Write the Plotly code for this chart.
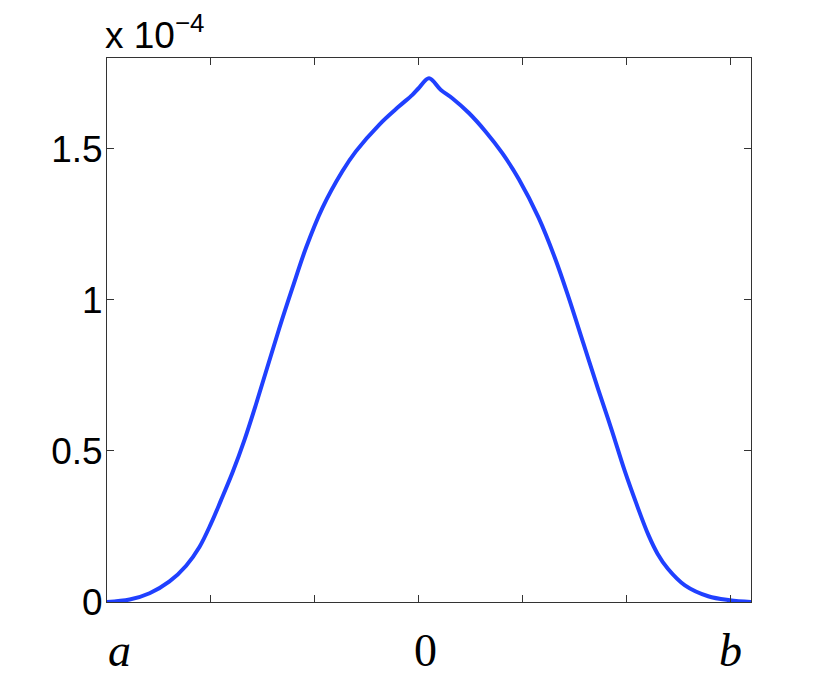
import plotly.graph_objects as go

# curve, y in units of 1e-4
x_vals = [-1.5, -1.391, -1.295, -1.199, -1.119, -1.055, -0.999, -0.951, -0.895, -0.839,
          -0.782, -0.671, -0.607, -0.542, -0.463, -0.367, -0.302, -0.19, -0.094, -0.03,
          0.0, 0.05, 0.106, 0.162, 0.242, 0.322, 0.402, 0.482, 0.578, 0.658,
          0.722, 0.794, 0.866, 0.93, 0.991, 1.05, 1.106, 1.15, 1.2, 1.282,
          1.394, 1.498, 1.6]
y_vals = [0.0, 0.008, 0.029, 0.068, 0.120, 0.182, 0.260, 0.337, 0.430, 0.535,
          0.656, 0.905, 1.040, 1.172, 1.304, 1.425, 1.491, 1.579, 1.640, 1.678,
          1.700, 1.733, 1.695, 1.667, 1.618, 1.557, 1.486, 1.400, 1.271, 1.135,
          1.008, 0.854, 0.700, 0.568, 0.436, 0.322, 0.222, 0.160, 0.110, 0.055,
          0.019, 0.006, 0.0]

x_ticks = [-1.0, -0.5, 0.0, 0.5, 1.0, 1.5]
y_ticks = [0, 0.5, 1, 1.5]
y_ticktext = ["0", "0.5", "1", "1.5"]

# x labels: (position, text)
x_labels = [(-1.44, "<i>a</i>"), (0.033, "0"), (1.5, "<i>b</i>")]

axis_col = "#333333"

fig = go.Figure()
fig.add_trace(go.Scatter(x=x_vals, y=y_vals, mode="lines",
                         line=dict(color="#2040ff", width=4, shape="spline", smoothing=1.0),
                         hoverinfo="skip"))

fig.update_xaxes(range=[-1.5, 1.6], tickvals=x_ticks, showticklabels=False,
                 ticks="inside", ticklen=7, tickcolor=axis_col, tickwidth=1,
                 showline=True, linecolor=axis_col, linewidth=1, mirror="ticks",
                 showgrid=False, zeroline=False)
fig.update_yaxes(range=[0, 1.8], tickvals=y_ticks, ticktext=y_ticktext,
                 ticks="inside", ticklen=7, tickcolor=axis_col, tickwidth=1,
                 showline=True, linecolor=axis_col, linewidth=1, mirror="ticks",
                 showgrid=False, zeroline=False, ticklabelstandoff=-4,
                 tickfont=dict(family="Liberation Sans, Arial", size=37, color="black"))

for xv, txt in x_labels:
    fig.add_annotation(x=xv, y=0, xref="x", yref="paper", text=txt, showarrow=False,
                       xanchor="center", yanchor="middle", yshift=-48, height=44,
                       font=dict(family="Liberation Serif, DejaVu Serif", size=46, color="black"))

fig.add_annotation(x=0, y=1, xref="paper", yref="paper", text="x 10<sup>−4</sup>",
                   showarrow=False, xanchor="left", yanchor="bottom", xshift=-4, yshift=0,
                   font=dict(family="Liberation Sans, Arial", size=37, color="black"))

# page body adds an 8px offset, so the figure is drawn a bit smaller
fig.update_layout(width=822, height=671, margin=dict(l=99, r=79, t=50, b=77),
                  plot_bgcolor="white", paper_bgcolor="white", showlegend=False)

fig.write_html("out.html")
